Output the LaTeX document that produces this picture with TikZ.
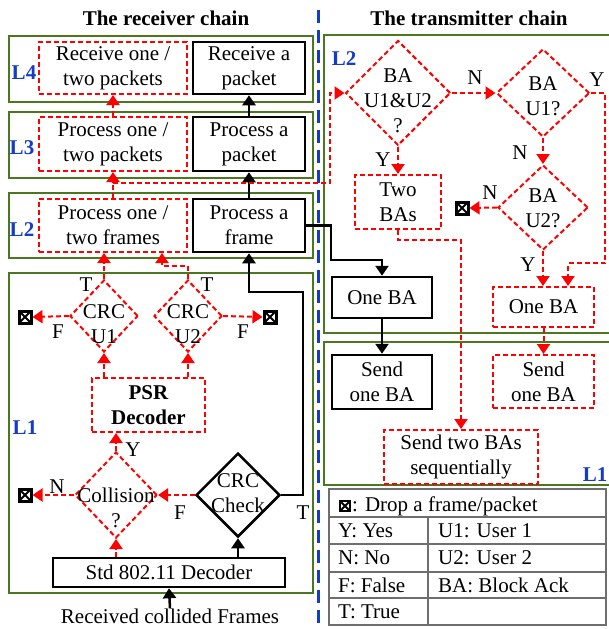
\documentclass[tikz,border=0pt]{standalone}
\usepackage{fontspec}
\setmainfont{Liberation Serif}
\usetikzlibrary{shapes.geometric,arrows.meta}

\definecolor{lvgreen}{RGB}{75,120,30}
\definecolor{lvblue}{RGB}{20,60,200}
\definecolor{tblgray}{RGB}{110,110,110}
\newcommand{\lvfont}{\fontsize{21}{25}\selectfont}

\tikzset{
  grn/.style={draw=lvgreen, line width=2.8pt},
  rbox/.style={draw=red, line width=2pt, dash pattern=on 5pt off 3pt, align=center, inner sep=1pt},
  bbox/.style={draw=black, line width=2.5pt, align=center, inner sep=1pt},
  rdiam/.style={diamond, draw=red, line width=2pt, dash pattern=on 5pt off 3pt, inner sep=0pt},
  bdiam/.style={diamond, draw=black, line width=2.5pt, inner sep=0pt},
  txt/.style={align=center, inner sep=0pt},
  lvl/.style={text=lvblue, font=\lvfont\bfseries, inner sep=0pt},
  drop/.style={draw=black, fill=white, line width=3pt, minimum size=12pt, inner sep=0pt,
    path picture={\draw[line width=2pt] (path picture bounding box.south west) -- (path picture bounding box.north east)
      (path picture bounding box.north west) -- (path picture bounding box.south east);}},
  rarr/.style={red, line width=2pt, dash pattern=on 5pt off 3pt, -{Triangle[length=10pt,width=13pt]}},
  barr/.style={black, line width=2.5pt, -{Triangle[length=10pt,width=13pt]}},
}

\begin{document}
\begin{tikzpicture}[x=1pt, y=-1pt, font=\lvfont]
\useasboundingbox (0,0) rectangle (608,629);

% titles and separator
\node[font=\lvfont\bfseries] (rxtitle) at (166,18) {The receiver chain};
\node[font=\lvfont\bfseries] (txtitle) at (469,18) {The transmitter chain};
\draw[lvblue, line width=3pt, dash pattern=on 13pt off 7pt] (318,10) -- (318,628);

% layer frames
\draw[grn] (9,36) rectangle (313,102);
\draw[grn] (9,112) rectangle (313,178);
\draw[grn] (9,193) rectangle (313,258);
\draw[grn] (9,273) rectangle (313,593);
\draw[grn] (324,35) rectangle (612,333);
\draw[grn] (324,342) rectangle (612,485);

\node[lvl] (lfour) at (24,73) {L4};
\node[lvl] (lthree) at (22,148) {L3};
\node[lvl] (ltwo) at (22,230) {L2};
\node[lvl] (lone) at (25,428) {L1};
\node[lvl] (rtwo) at (344,59) {L2};
\node[lvl] (rone) at (595,475) {L1};

% receiver chain, upper layers
\node[rbox, minimum width=148pt, minimum height=52pt] (rp4) at (113,68) {Receive one /\\two packets};
\node[bbox, minimum width=112pt, minimum height=52pt] (bp4) at (249,68) {Receive a\\packet};
\node[rbox, minimum width=148pt, minimum height=54pt] (rp3) at (113,144) {Process one /\\two packets};
\node[bbox, minimum width=112pt, minimum height=54pt] (bp3) at (249,144) {Process a\\packet};
\node[rbox, minimum width=148pt, minimum height=53pt] (rp2) at (113,225.5) {Process one /\\two frames};
\node[bbox, minimum width=112pt, minimum height=53pt] (bp2) at (249,225.5) {Process a\\frame};

% receiver chain, L1
\node[rdiam, minimum width=68pt, minimum height=72pt] (crc1) at (104,316) {};
\node[txt] (crc1t) at (104,324) {CRC\\U1};
\node[rdiam, minimum width=68pt, minimum height=72pt] (crc2) at (188,316) {};
\node[txt] (crc2t) at (188,324) {CRC\\U2};
\node[drop] (drop1) at (25,317) {};
\node[drop] (drop2) at (270,317) {};
\node[rbox, minimum width=113pt, minimum height=54pt, font=\lvfont\bfseries] (psr) at (148.5,405) {PSR\\Decoder};
\node[rdiam, minimum width=82pt, minimum height=86pt] (coll) at (116,495) {};
\node[txt] (collt) at (116,508) {Collision\\?};
\node[drop] (drop3) at (25,495) {};
\node[bdiam, minimum width=84pt, minimum height=84pt] (crcc) at (238,495) {};
\node[txt] (crcct) at (238,493) {CRC\\Check};
\node[bbox, minimum width=232pt, minimum height=29pt] (std) at (169,572.5) {Std 802.11 Decoder};
\node[txt] (rcv) at (170,616) {Received collided Frames};

\node[txt] (t1) at (86,285) {T};
\node[txt] (t2) at (207,285) {T};
\node[txt] (f1) at (58,332) {F};
\node[txt] (f2) at (243,332) {F};
\node[txt] (y1) at (133,450) {Y};
\node[txt] (n1) at (57,487) {N};
\node[txt] (f3) at (180,513) {F};
\node[txt] (t3) at (303,513) {T};

\coordinate (brk) at (113,183);
\coordinate (tx) at (330,93);
\coordinate (c2k) at (162,266);
\coordinate (tcor) at (303,292);

\draw[barr] (rcv.north) -- (std.south);
\draw[rarr] (std.north -| coll.south) -- (coll.south);
\draw[barr] (std.north -| crcc.south) -- (crcc.south);
\draw[rarr] (crcc.west) -- (coll.east);
\draw[rarr] (coll.west) -- (drop3.east);
\draw[rarr] (coll.north) -- (coll.north |- psr.south);
\draw[rarr] (psr.north -| crc1.south) -- (crc1.south);
\draw[rarr] (psr.north -| crc2.south) -- (crc2.south);
\draw[rarr] (crc1.west) -- (drop1.east);
\draw[rarr] (crc2.east) -- (drop2.west);
\draw[rarr] (crc1.north) -- (crc1.north |- rp2.south);
\draw[rarr] (crc2.north) |- (c2k) -- (c2k |- rp2.south);
\draw[barr] (crcc.east) -| (tcor) -| (bp2.south);
\draw[rarr] (rp2.north) -- (rp3.south);
\draw[rarr] (rp3.north) -- (rp4.south);
\draw[barr] (bp2.north) -- (bp3.south);
\draw[barr] (bp3.north) -- (bp4.south);

% transmitter chain
\node[rdiam, minimum width=105pt, minimum height=105pt] (ba12) at (398,93) {};
\node[txt] (ba12t) at (398,101) {BA\\U1\&U2\\?};
\node[rdiam, minimum width=93pt, minimum height=88pt] (bau1) at (543,93) {};
\node[txt] (bau1t) at (543,96) {BA\\U1?};
\node[rdiam, minimum width=90pt, minimum height=85pt] (bau2) at (543,207.5) {};
\node[txt] (bau2t) at (543,208) {BA\\U2?};
\node[drop] (drop4) at (462,208) {};
\node[rbox, minimum width=86pt, minimum height=54pt] (two) at (398,202) {Two\\BAs};
\node[bbox, minimum width=100pt, minimum height=41pt] (oneb) at (382,297.5) {One BA};
\node[bbox, minimum width=100pt, minimum height=54pt] (sendb) at (382,382) {Send\\one BA};
\node[rbox, minimum width=101pt, minimum height=40pt] (oner) at (543.5,307) {One BA};
\node[rbox, minimum width=101pt, minimum height=53pt] (sendr) at (543.5,381.5) {Send\\one BA};
\node[rbox, minimum width=154pt, minimum height=54pt] (seq) at (461,457) {Send two BAs\\sequentially};

\node[txt] (n2) at (475,78) {N};
\node[txt] (y2) at (597,80) {Y};
\node[txt] (n3) at (520,153) {N};
\node[txt] (n4) at (490,193) {N};
\node[txt] (y3) at (528,265) {Y};
\node[txt] (y4) at (383,160) {Y};

\coordinate (bk1) at (331,260);
\coordinate (yc1) at (605,263);
\coordinate (yc2) at (568,263);
\coordinate (tw1) at (398,240);

\draw[rarr] (brk) -| (tx) -- (ba12.west);
\draw[rarr] (ba12.east) -- (bau1.west);
\draw[rarr] (ba12.south) -- (two.north);
\draw[rarr] (bau1.south) -- (bau2.north);
\draw[rarr] (bau2.west) -- (drop4.east);
\draw[rarr] (bau2.south) -- (oner.north -| bau2.south);
\draw[rarr] (bau1.east) -| (yc1) -- (yc2) -- (yc2 |- oner.north);
\draw[rarr] (two.south) -- (tw1) -| (seq.north);
\draw[rarr] (oner.south) -- (sendr.north);
\draw[barr] (bp2.east) -| (bk1) -| (oneb.north);
\draw[barr] (oneb.south) -- (sendb.north);

% legend
\draw[tblgray, line width=1.5pt] (329,489) rectangle (606,625);
\draw[tblgray, line width=1.5pt] (329,517) -- (606,517) (329,544) -- (606,544) (329,572) -- (606,572)
  (329,598) -- (606,598) (428,517) -- (428,625);
\node[drop, minimum size=10pt, line width=2.5pt] (lgdrop) at (345,506) {};
\node[anchor=base west, inner sep=0pt] (lg0) at (352,511) {: Drop a frame/packet};
\node[anchor=west, inner sep=0pt] (lg1) at (338,531) {Y: Yes};
\node[anchor=west, inner sep=0pt] (lg2) at (438,531) {U1: User 1};
\node[anchor=west, inner sep=0pt] (lg3) at (338,558) {N: No};
\node[anchor=west, inner sep=0pt] (lg4) at (438,558) {U2: User 2};
\node[anchor=west, inner sep=0pt] (lg5) at (338,585) {F: False};
\node[anchor=west, inner sep=0pt] (lg6) at (438,585) {BA: Block Ack};
\node[anchor=west, inner sep=0pt] (lg7) at (338,612) {T: True};
\end{tikzpicture}
\end{document}
